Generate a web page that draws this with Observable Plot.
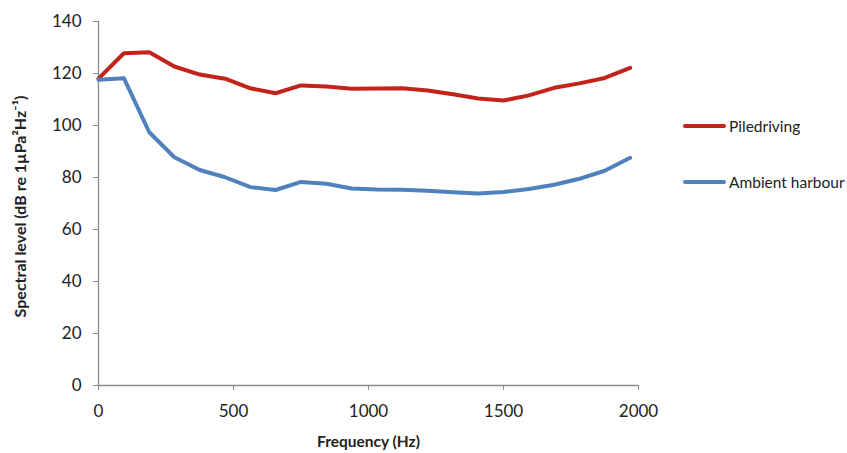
<!DOCTYPE html>
<html>
<head>
<meta charset="utf-8">
<script src="https://cdn.jsdelivr.net/npm/d3@7"></script>
<script src="https://cdn.jsdelivr.net/npm/@observablehq/plot@0.6"></script>
<style>
  html, body { margin: 0; padding: 0; background: #fff; }
  #wrap { position: relative; width: 847px; height: 453px; font-family: Lato, "Open Sans", sans-serif; }
  .leg { position: absolute; display: flex; align-items: center; font-size: 15.5px; color: #222; }
  .leg span.sw { display: inline-block; width: 43px; height: 4px; border-radius: 2px; margin-right: 3px; }
</style>
</head>
<body>
<div id="wrap"></div>
<script>
const frequency = [0, 94, 188, 281, 375, 469, 563, 656, 750, 844, 938, 1031, 1125, 1219, 1313, 1406, 1500, 1594, 1688, 1781, 1875, 1969];
const piledriving = [118.0, 127.8, 128.2, 122.7, 119.6, 118.0, 114.3, 112.4, 115.4, 115.0, 114.1, 114.2, 114.3, 113.5, 112.0, 110.4, 109.6, 111.6, 114.5, 116.2, 118.3, 122.2];
const ambient = [117.6, 118.2, 97.4, 87.8, 82.9, 80.1, 76.3, 75.2, 78.3, 77.6, 75.8, 75.4, 75.3, 74.9, 74.3, 73.8, 74.4, 75.6, 77.2, 79.5, 82.6, 87.6];
const seriesNames = ["Piledriving", "Ambient harbour"];
const seriesColors = ["#c4231b", "#4f81bd"];
const xTicks = [0, 500, 1000, 1500, 2000];
const yTicks = [0, 20, 40, 60, 80, 100, 120, 140];
const xLabel = "Frequency (Hz)";
const yLabel = "Spectral level (dB re 1µPa²Hz⁻¹)";

const rows = [];
frequency.forEach((f, i) => {
  rows.push({f, v: piledriving[i], s: seriesNames[0]});
  rows.push({f, v: ambient[i], s: seriesNames[1]});
});

const chart = Plot.plot({
  width: 847,
  height: 453,
  marginLeft: 98,
  marginRight: 209,
  marginTop: 21,
  marginBottom: 68,
  style: {fontFamily: "Lato, 'Open Sans', sans-serif", fontSize: "17px", color: "#222", background: "#fff"},
  x: {domain: [0, 2000]},
  y: {domain: [0, 140]},
  color: {domain: seriesNames, range: seriesColors},
  marks: [
    Plot.ruleX([0], {stroke: "#8c8c8c", strokeWidth: 1.3}),
    Plot.ruleY([0], {stroke: "#8c8c8c", strokeWidth: 1.3}),
    Plot.axisX({ticks: xTicks, tickFormat: d => String(d), tickSize: 5, tickPadding: 14, stroke: "#8c8c8c", fill: "#222", label: null, fontSize: 17}),
    Plot.axisY({ticks: yTicks, tickFormat: d => String(d), tickSize: 5, tickPadding: 12, stroke: "#8c8c8c", fill: "#222", label: null, fontSize: 17}),
    Plot.line(rows, {x: "f", y: "v", z: "s", stroke: "s", strokeWidth: 4, strokeLinejoin: "round", strokeLinecap: "round"}),
    Plot.text([xLabel], {frameAnchor: "bottom", dy: 61, fontWeight: "bold", fontSize: 15.5, fill: "#222"}),
    Plot.text([yLabel], {frameAnchor: "left", textAnchor: "middle", dx: -78, dy: 3, rotate: -90, fontWeight: "bold", fontSize: 16, fill: "#222"})
  ]
});
const wrap = document.getElementById("wrap");
wrap.appendChild(chart);

const legPos = [{x: 683, y: 126}, {x: 683, y: 182}];
seriesNames.forEach((name, i) => {
  const d = document.createElement("div");
  d.className = "leg";
  d.style.left = legPos[i].x + "px";
  d.style.top = (legPos[i].y - 10) + "px";
  d.style.height = "20px";
  d.innerHTML = `<span class="sw" style="background:${seriesColors[i]}"></span><span>${name}</span>`;
  wrap.appendChild(d);
});
</script>
</body>
</html>
